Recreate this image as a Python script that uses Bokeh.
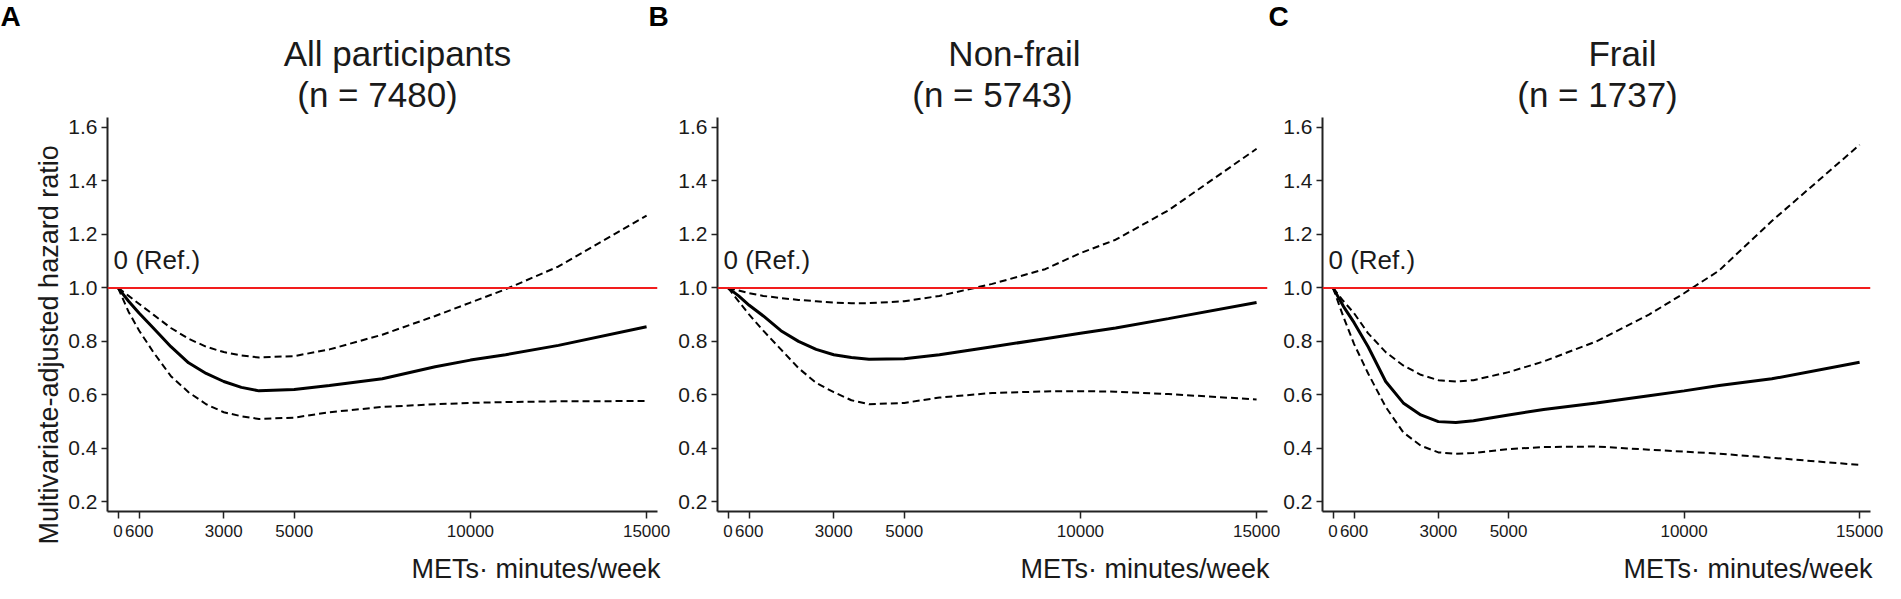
from bokeh.plotting import figure
from bokeh.layouts import row, column
from bokeh.models import Span, Label, FixedTicker, Range1d, Title
from bokeh.embed import file_html
from bokeh.resources import INLINE

# ---------------- data ----------------
mets = [0, 300, 600, 1000, 1500, 2000, 2500, 3000, 3500, 4000, 5000, 6000,
        7500, 9000, 10000, 11000, 12500, 15000]

all_hr    = [1.0, 0.95, 0.905, 0.85, 0.78, 0.72, 0.68, 0.65, 0.628, 0.615, 0.62, 0.635,
             0.66, 0.705, 0.73, 0.75, 0.785, 0.855]
all_upper = [1.0, 0.97, 0.94, 0.90, 0.85, 0.81, 0.78, 0.76, 0.747, 0.74, 0.745, 0.77,
             0.825, 0.895, 0.945, 0.995, 1.08, 1.27]
all_lower = [1.0, 0.91, 0.84, 0.76, 0.67, 0.61, 0.565, 0.535, 0.52, 0.51, 0.515, 0.535,
             0.555, 0.565, 0.57, 0.573, 0.576, 0.577]

nonfrail_hr    = [1.0, 0.97, 0.935, 0.895, 0.84, 0.80, 0.77, 0.75, 0.74, 0.733, 0.735, 0.75,
                  0.78, 0.81, 0.83, 0.85, 0.885, 0.945]
nonfrail_upper = [1.0, 0.99, 0.98, 0.97, 0.962, 0.955, 0.95, 0.945, 0.943, 0.943, 0.95, 0.97,
                  1.015, 1.07, 1.13, 1.18, 1.29, 1.52]
nonfrail_lower = [1.0, 0.95, 0.90, 0.84, 0.77, 0.70, 0.645, 0.61, 0.58, 0.565, 0.57, 0.59,
                  0.607, 0.613, 0.614, 0.612, 0.603, 0.583]

frail_hr    = [1.0, 0.93, 0.87, 0.78, 0.65, 0.57, 0.525, 0.50, 0.497, 0.503, 0.525, 0.545,
               0.57, 0.597, 0.615, 0.635, 0.66, 0.722]
frail_upper = [1.0, 0.95, 0.905, 0.83, 0.76, 0.71, 0.675, 0.655, 0.65, 0.655, 0.685, 0.725,
               0.80, 0.90, 0.98, 1.065, 1.25, 1.535]
frail_lower = [1.0, 0.89, 0.79, 0.68, 0.555, 0.46, 0.41, 0.385, 0.38, 0.383, 0.397, 0.405,
               0.407, 0.395, 0.388, 0.38, 0.365, 0.338]

titles = ["All participants", "Non-frail", "Frail"]
subtitles = ["(n = 7480)", "(n = 5743)", "(n = 1737)"]
letters = ["A", "B", "C"]

x_ticks = [0, 600, 3000, 5000, 10000, 15000]
x_tick_labels = ["0", "600", "3000", "5000", "10000", "15000"]
y_ticks = [0.2, 0.4, 0.6, 0.8, 1.0, 1.2, 1.4, 1.6]
y_tick_labels = ["0.2", "0.4", "0.6", "0.8", "1.0", "1.2", "1.4", "1.6"]

y_label = "Multivariate-adjusted  hazard ratio"
x_label = "METs\u00b7 minutes/week"
ref_text = "0 (Ref.)"

series = [
    (all_hr, all_upper, all_lower),
    (nonfrail_hr, nonfrail_upper, nonfrail_lower),
    (frail_hr, frail_upper, frail_lower),
]

# ---------------- layout constants (page pixels) ----------------
FONT = "Liberation Sans"
TXT = "#1a1a1a"
MARGIN = 8
TOP_H = 115          # header strip: page y 8..123
FRAME_W = 550
FRAME_H = 394
PANEL_TOP = 2        # frame top at page y 125
PANEL_BOTTOM = 36    # frame bottom at page y 519
PANEL_H = PANEL_TOP + FRAME_H + PANEL_BOTTOM
BOTTOM_H = 36        # footer strip: page y 555..591

borders = [(107, 15), (45, 13), (40, 15)]
TOTAL_W = sum(l + FRAME_W + r for l, r in borders)

# text placement (page coordinates)
letter_x = [8, 656, 1276]
letter_y = 24
title_cx = [405, 1022, 1630]
title_y = 61
sub_cx = [385, 1000, 1605]
sub_y = 102
xlab_right = [668, 1277, 1880]
xlab_y = 576


def text_strip(w, h):
    p = figure(width=w, height=h, x_range=Range1d(0, 1), y_range=Range1d(0, 1),
               x_axis_location=None, y_axis_location=None,
               output_backend="svg", toolbar_location=None, min_border=0)
    p.outline_line_color = None
    p.grid.visible = False
    return p


def make_panel(i):
    left, right = borders[i]
    hr, up, lo = series[i]
    p = figure(width=left + FRAME_W + right, height=PANEL_H,
               x_range=Range1d(-300, 15310), y_range=Range1d(0.164, 1.637),
               output_backend="svg", toolbar_location=None,
               min_border_left=left, min_border_right=right,
               min_border_top=PANEL_TOP, min_border_bottom=PANEL_BOTTOM)
    p.outline_line_color = None
    p.grid.visible = False

    for ax in (p.xaxis[0], p.yaxis[0]):
        ax.axis_line_width = 2
        ax.axis_line_color = "#222222"
        ax.major_tick_line_color = "#222222"
        ax.major_tick_line_width = 1.5
        ax.major_tick_in = 0
        ax.minor_tick_line_color = None
        ax.major_label_text_font = FONT
        ax.major_label_text_color = TXT

    p.xaxis.ticker = FixedTicker(ticks=x_ticks)
    p.xaxis.major_label_overrides = dict(zip(x_ticks, x_tick_labels))
    p.xaxis.major_tick_out = 7
    p.xaxis.major_label_standoff = 6
    p.xaxis.major_label_text_font_size = "17px"

    p.yaxis.ticker = FixedTicker(ticks=y_ticks)
    p.yaxis.major_label_overrides = dict(zip(y_ticks, y_tick_labels))
    p.yaxis.major_tick_out = 6
    p.yaxis.major_label_standoff = 4
    p.yaxis.major_label_text_font_size = "21px"

    if i == 0:
        # y-axis title: starts just below the frame bottom and reads upwards
        p.add_layout(Title(text=y_label, align="left", offset=-33, standoff=4,
                           text_font=FONT, text_font_size="27px",
                           text_font_style="normal", text_color=TXT), "left")

    p.add_layout(Span(location=1.0, dimension="width", line_color="#f21d1d", line_width=2))

    p.line(mets, up, line_color="black", line_width=2, line_dash="7 4")
    p.line(mets, lo, line_color="black", line_width=2, line_dash="7 4")
    p.line(mets, hr, line_color="black", line_width=3)

    p.add_layout(Label(x=6, y=1.105, x_units="screen", y_units="data", text=ref_text,
                       text_font=FONT, text_font_size="26px", text_color=TXT,
                       text_baseline="middle", text_align="left"))
    return p


# header strip with panel letters and titles
top = text_strip(TOTAL_W, TOP_H)
top_bottom = MARGIN + TOP_H
for i in range(3):
    top.add_layout(Label(x=letter_x[i] - MARGIN, y=top_bottom - letter_y,
                         x_units="screen", y_units="screen", text=letters[i],
                         text_font=FONT, text_font_size="28px", text_font_style="bold",
                         text_color="black", text_align="left", text_baseline="middle"))
    top.add_layout(Label(x=title_cx[i] - MARGIN, y=top_bottom - title_y,
                         x_units="screen", y_units="screen", text=titles[i],
                         text_font=FONT, text_font_size="35px", text_color=TXT,
                         text_align="center", text_baseline="middle"))
    top.add_layout(Label(x=sub_cx[i] - MARGIN, y=top_bottom - sub_y,
                         x_units="screen", y_units="screen", text=subtitles[i],
                         text_font=FONT, text_font_size="35px", text_color=TXT,
                         text_align="center", text_baseline="middle"))

# footer strip with x-axis labels
panel_bottom_page = MARGIN + TOP_H + PANEL_H
bottom = text_strip(TOTAL_W, BOTTOM_H)
bottom_page = panel_bottom_page + BOTTOM_H
for i in range(3):
    bottom.add_layout(Label(x=xlab_right[i] - MARGIN, y=bottom_page - xlab_y,
                            x_units="screen", y_units="screen", text=x_label,
                            text_font=FONT, text_font_size="27px", text_color=TXT,
                            text_align="right", text_baseline="middle"))

panels = [make_panel(i) for i in range(3)]

layout = column(top, row(*panels, spacing=0), bottom, spacing=0)
open("out.html", "w").write(file_html(layout, INLINE))
